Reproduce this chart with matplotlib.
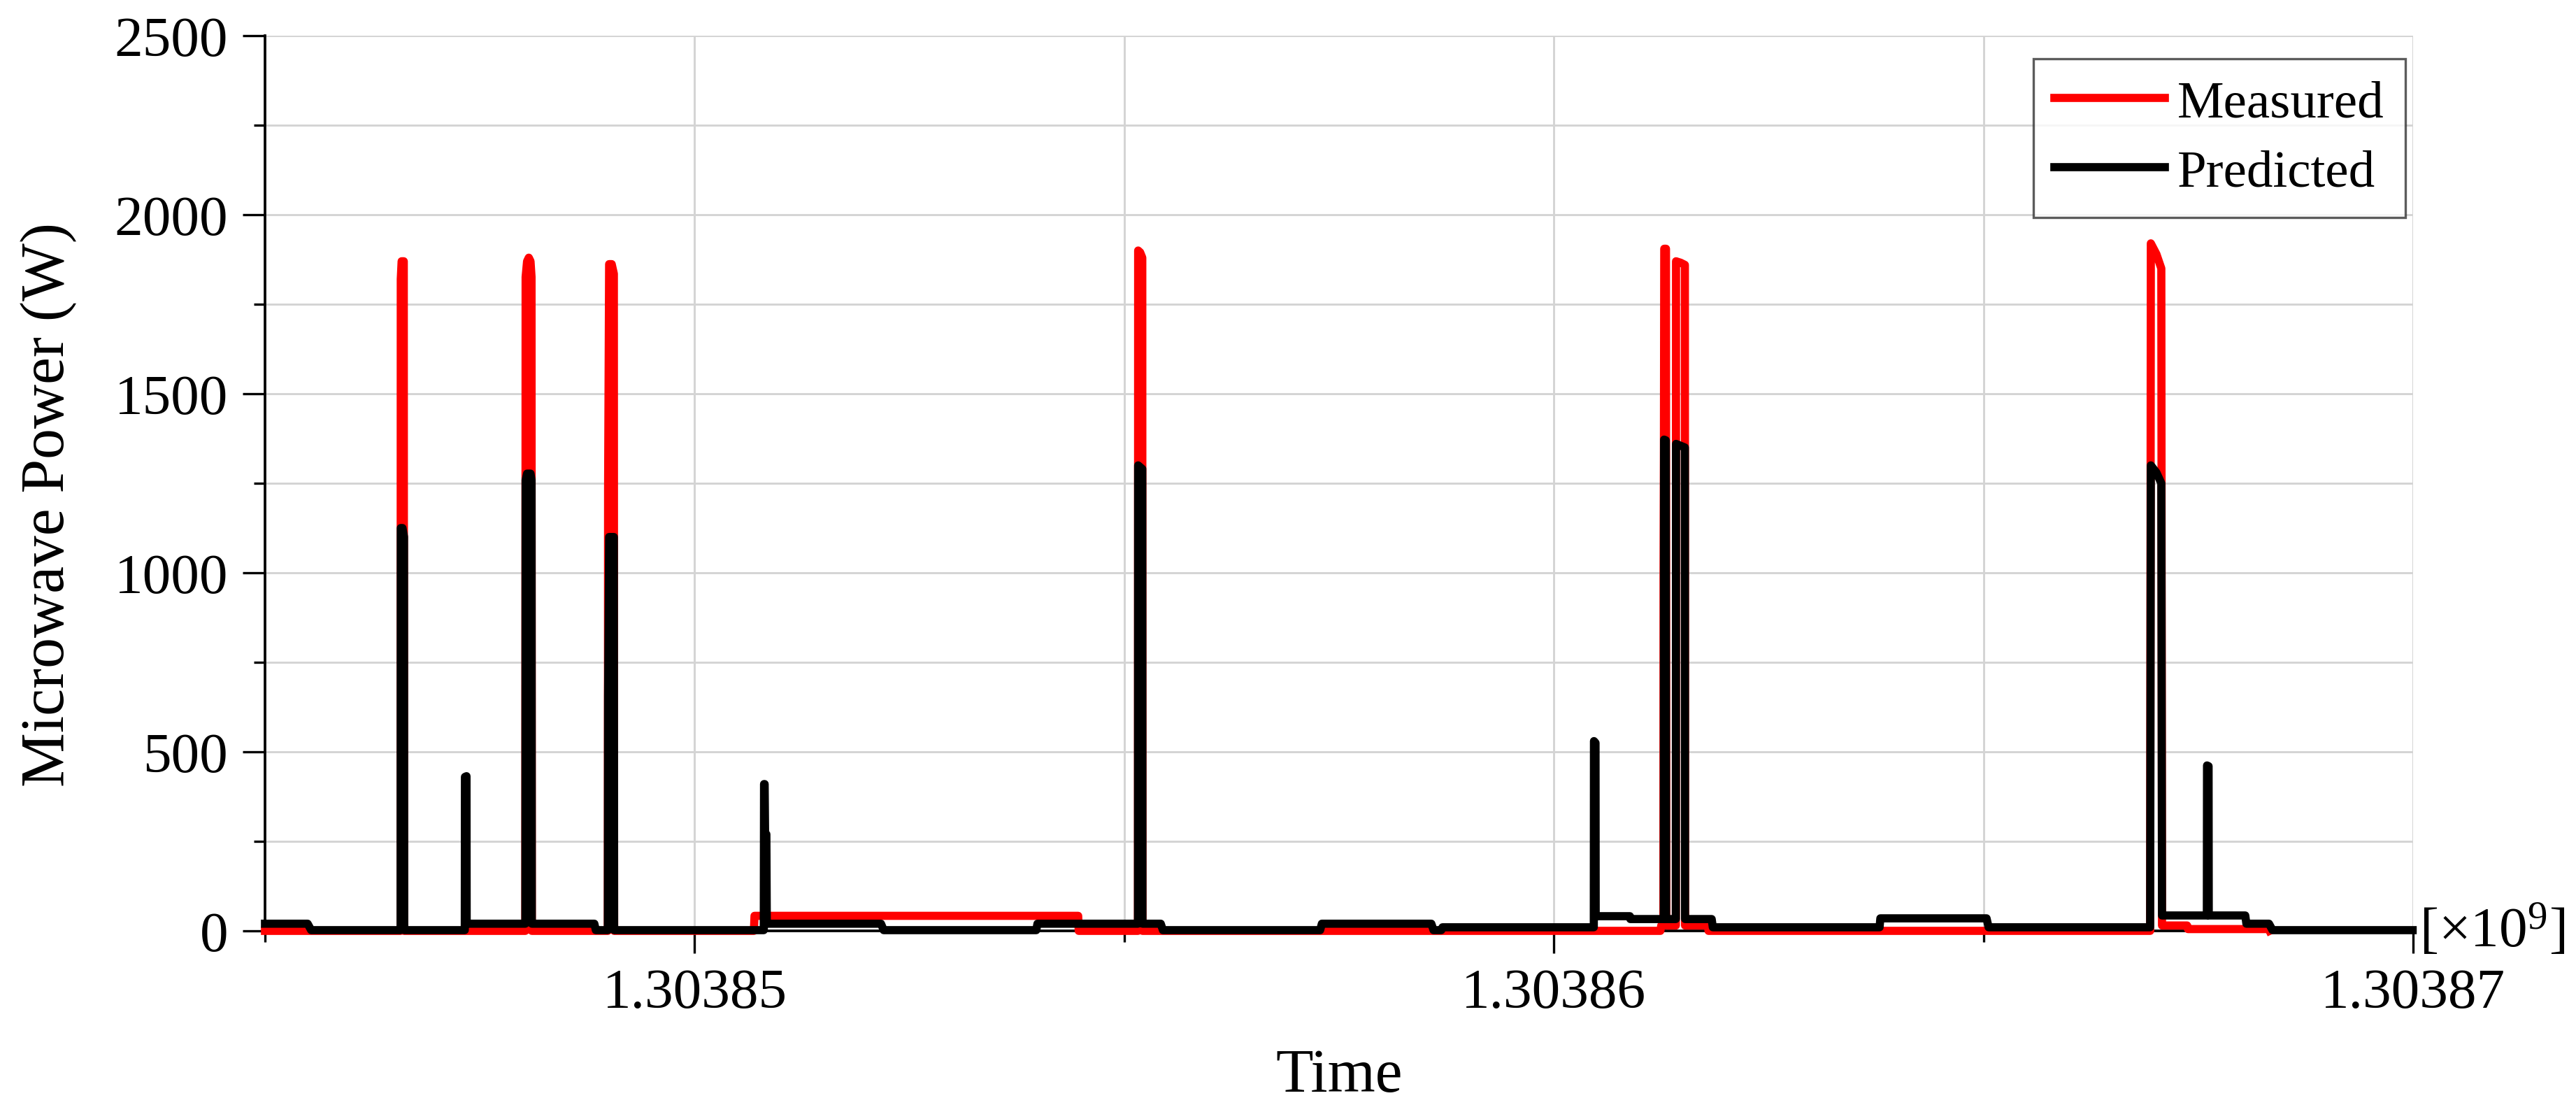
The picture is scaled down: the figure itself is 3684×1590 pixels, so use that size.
import matplotlib
matplotlib.use("Agg")
import matplotlib.pyplot as plt
from matplotlib.ticker import MultipleLocator, FuncFormatter

plt.rcParams["font.family"] = ["Liberation Serif", "DejaVu Serif"]
plt.rcParams["mathtext.fontset"] = "custom"
plt.rcParams["mathtext.rm"] = "Liberation Serif"
plt.rcParams["mathtext.it"] = "Liberation Serif:italic"

T0 = 1303845000  # start of the window, unix seconds

# measured microwave power: (seconds after T0, watts)
MEAS_T = [0, 1578, 1580, 1590, 1615, 1618,
          3030, 3033, 3050, 3070, 3090, 3102, 3105,
          3990, 3993, 4005, 4035, 4060, 4063,
          5690, 5697, 9464, 9470,
          10160, 10162, 10185, 10210, 10212,
          16240, 16250, 16275, 16277, 16281, 16285, 16305, 16308,
          16420, 16422, 16475, 16525, 16527, 16795, 16800,
          21940, 21948, 22013, 22070, 22078, 22370, 22380, 23320, 23330]
MEAS_P = [0, 0, 1820, 1870, 1870, 0,
          0, 1826, 1870, 1880, 1870, 1826, 0,
          0, 1232, 1862, 1862, 1835, 0,
          0, 42, 42, 0,
          0, 1900, 1895, 1880, 0,
          0, 15, 15, 985, 1330, 1905, 1905, 15,
          15, 1870, 1866, 1860, 15, 15, 0,
          0, 1920, 1890, 1850, 15, 15, 5, 5, 0]

# predicted microwave power
PRED_T = [0, 496, 537, 1578, 1580, 1600, 1618, 1620,
          2325, 2327, 2345, 2347, 3030, 3033, 3050, 3090, 3102, 3105, 3833, 3850,
          3990, 3993, 4005, 4060, 4063,
          5805, 5808, 5815, 5820, 5835, 5840, 7169, 7200, 8976, 8990,
          10160, 10162, 10210, 10212, 10425, 10450, 12280, 12300, 13574, 13600, 13690, 13704,
          15465, 15467, 15485, 15487, 15885, 15890,
          16280, 16283, 16303, 16306, 16420, 16422, 16525, 16527, 16837, 16850,
          18791, 18800, 20036, 20060,
          21940, 21948, 22013, 22070, 22078, 22600, 22602, 22620, 22622, 23047, 23060, 23323, 23364, 24995]
PRED_P = [20, 20, 2, 2, 1125, 1125, 1100, 2,
          2, 430, 432, 20, 20, 1259, 1277, 1277, 1259, 20, 20, 2,
          2, 656, 1100, 1100, 2,
          2, 410, 410, 270, 270, 20, 20, 2, 2, 20,
          20, 1300, 1290, 20, 20, 2, 2, 20, 20, 2, 2, 10,
          10, 530, 525, 41, 41, 33,
          33, 1372, 1370, 33, 33, 1360, 1350, 33, 33, 10,
          10, 35, 35, 10,
          10, 1300, 1280, 1250, 43, 43, 462, 460, 43, 43, 20, 20, 2, 2]

meas_t = [T0 + t for t in MEAS_T]
pred_t = [T0 + t for t in PRED_T]

fig = plt.figure(figsize=(12.2833, 5.3033), dpi=300)
ax = fig.add_axes([0.10285, 0.16279, 0.83365, 0.80452])

ax.plot(meas_t, MEAS_P, color="#ff0000", lw=2.8, label="Measured",
        zorder=3, clip_on=False, solid_joinstyle="round")
ax.plot(pred_t, PRED_P, color="black", lw=2.8, label="Predicted",
        zorder=4, clip_on=False, solid_joinstyle="round")

ax.set_xlim(T0, T0 + 25000)
ax.set_ylim(0, 2500)

ax.xaxis.set_major_locator(MultipleLocator(10000))
ax.xaxis.set_minor_locator(MultipleLocator(5000))
ax.xaxis.set_major_formatter(FuncFormatter(lambda v, p: f"{v / 1e9:.5f}"))
ax.yaxis.set_major_locator(MultipleLocator(500))
ax.yaxis.set_minor_locator(MultipleLocator(250))

ax.spines["top"].set_visible(False)
ax.spines["right"].set_visible(False)
for s in ("left", "bottom"):
    ax.spines[s].set_linewidth(0.9)

ax.tick_params(which="major", direction="out", length=7.7, width=0.8,
               labelsize=19.5, pad=5)
ax.tick_params(which="minor", direction="out", length=3.8, width=0.8)

ax.set_axisbelow(True)
ax.grid(which="both", color="#d4d4d4", lw=0.7)

ax.set_xlabel("Time", fontsize=21, va="center")
ax.xaxis.set_label_coords(0.5, -0.162)
ax.set_ylabel("Microwave Power (W)", fontsize=21, va="center")
ax.yaxis.set_label_coords(-0.1006, 0.477)

ax.text(1.003, 0.0, r"[×10$^{9}$]", transform=ax.transAxes,
        ha="left", va="center", fontsize=19.5)

leg = ax.legend(loc="upper right", bbox_to_anchor=(0.9964, 0.9742),
                borderaxespad=0, fontsize=18, frameon=True, fancybox=False,
                edgecolor="#333333", handlelength=2.1, handletextpad=0.25,
                labelspacing=0.4, borderpad=0.4)
leg.get_frame().set_linewidth(0.8)
for h in leg.get_lines():
    h.set_linewidth(2.8)

fig.savefig("out.png", dpi=300)
